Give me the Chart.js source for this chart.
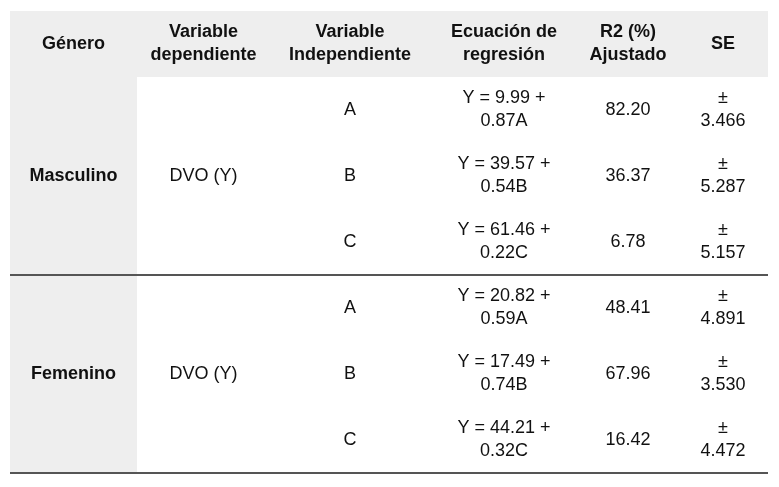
<!DOCTYPE html>
<html><head><meta charset="utf-8">
<script src="https://cdn.jsdelivr.net/npm/chart.js@4/dist/chart.umd.min.js"></script>
<style>html,body{margin:0;padding:0;background:#fff}#w{width:779px;height:487px}</style>
</head><body><div id="w"><canvas id="c"></canvas></div>
<script>
const headers = [["Género"],["Variable","dependiente"],["Variable","Independiente"],["Ecuación de","regresión"],["R2 (%)","Ajustado"],["SE"]];
const genders = ["Masculino","Femenino"];
const dependent = "DVO (Y)";
const independents = ["A","B","C"];
const intercepts = [[9.99,39.57,61.46],[20.82,17.49,44.21]];
const slopes = [[0.87,0.54,0.22],[0.59,0.74,0.32]];
const r2 = [["82.20","36.37","6.78"],["48.41","67.96","16.42"]];
const se = [["3.466","5.287","5.157"],["4.891","3.530","4.472"]];
const colEdges = [0,127,260,420,568,668,758];

const FONT = '"Liberation Sans Narrow","Liberation Sans",Arial,sans-serif';
const tablePlugin = {
  id:'table',
  afterDraw(chart){
    const ctx=chart.ctx, xs=chart.scales.x, ys=chart.scales.y;
    const X=v=>xs.getPixelForValue(v), Y=v=>ys.getPixelForValue(v);
    const left=X(0), right=X(758);
    ctx.save();
    ctx.fillStyle='#eeeeee';
    ctx.fillRect(left,Y(0),right-left,Y(1)-Y(0));
    ctx.fillRect(left,Y(1),X(colEdges[1])-left,Y(7)-Y(1));
    ctx.strokeStyle='#555'; ctx.lineWidth=2;
    [4,7].forEach(r=>{ctx.beginPath();ctx.moveTo(left,Y(r));ctx.lineTo(right,Y(r));ctx.stroke();});
    ctx.fillStyle='#111'; ctx.textAlign='center'; ctx.textBaseline='middle';
    const cx=i=>X((colEdges[i]+colEdges[i+1])/2);
    const cell=(lines,i,row,bold)=>{
      ctx.font=(bold?'bold ':'')+'18px '+FONT;
      const cy=Y(row+0.5), lh=23;
      lines.forEach((t,k)=>ctx.fillText(t,cx(i),cy+(k-(lines.length-1)/2)*lh));
    };
    headers.forEach((h,i)=>cell(h,i,0,true));
    genders.forEach((g,gi)=>{
      const base=1+gi*3;
      cell([g],0,base+1,true);
      cell([dependent],1,base+1,false);
      independents.forEach((v,k)=>{
        const r=base+k;
        cell([v],2,r,false);
        cell(['Y = '+intercepts[gi][k].toFixed(2)+' +', slopes[gi][k].toFixed(2)+v],3,r,false);
        cell([r2[gi][k]],4,r,false);
        cell(['±',se[gi][k]],5,r,false);
      });
    });
    ctx.restore();
  }
};
new Chart(document.getElementById('c'),{
  type:'scatter',
  data:{datasets:[{data:[]}]},
  options:{
    responsive:true, maintainAspectRatio:false, animation:false,
    layout:{padding:{left:10,right:11,top:11,bottom:14}},
    plugins:{legend:{display:false},tooltip:{enabled:false}},
    scales:{
      x:{type:'linear',min:0,max:758,display:false},
      y:{type:'linear',min:0,max:7,reverse:true,display:false}
    }
  },
  plugins:[tablePlugin]
});
</script></body></html>
